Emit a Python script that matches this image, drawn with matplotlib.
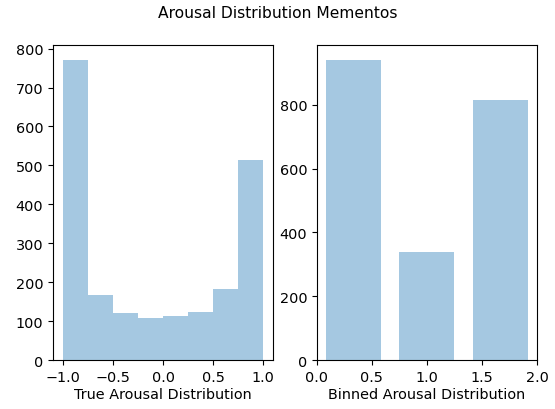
import numpy as np
import matplotlib.pyplot as plt

# True arousal histogram (-1..1, 8 bins)
true_edges = [-1.0, -0.75, -0.5, -0.25, 0.0, 0.25, 0.5, 0.75, 1.0]
true_counts = [771, 168, 120, 109, 112, 123, 183, 515]

# Binned arousal (3 classes 0, 1, 2)
binned_edges = [0.0, 2 / 3, 4 / 3, 2.0]
binned_counts = [941, 338, 815]

plt.rcParams['font.size'] = 10.4
color = '#1f77b4'

fig = plt.figure(figsize=(5.55, 4.1), dpi=100)
ax1 = fig.add_axes([0.0955, 0.1195, 0.3965, 0.7685])
ax2 = fig.add_axes([0.571, 0.1195, 0.3966, 0.7685])

ax1.hist(true_edges[:-1], bins=true_edges, weights=true_counts,
         color=color, alpha=0.4)
ax1.set_xlabel('True Arousal Distribution', labelpad=2)

centers = [(binned_edges[i] + binned_edges[i + 1]) / 2 for i in range(3)]
ax2.hist(centers, bins=binned_edges, weights=binned_counts,
         color=color, alpha=0.4, rwidth=0.75)
ax2.set_xlim(0, 2)
ax2.set_xlabel('Binned Arousal Distribution', labelpad=2)

fig.suptitle('Arousal Distribution Mementos', fontsize=11.2, y=0.985)

fig.savefig('out.png', dpi=100)
